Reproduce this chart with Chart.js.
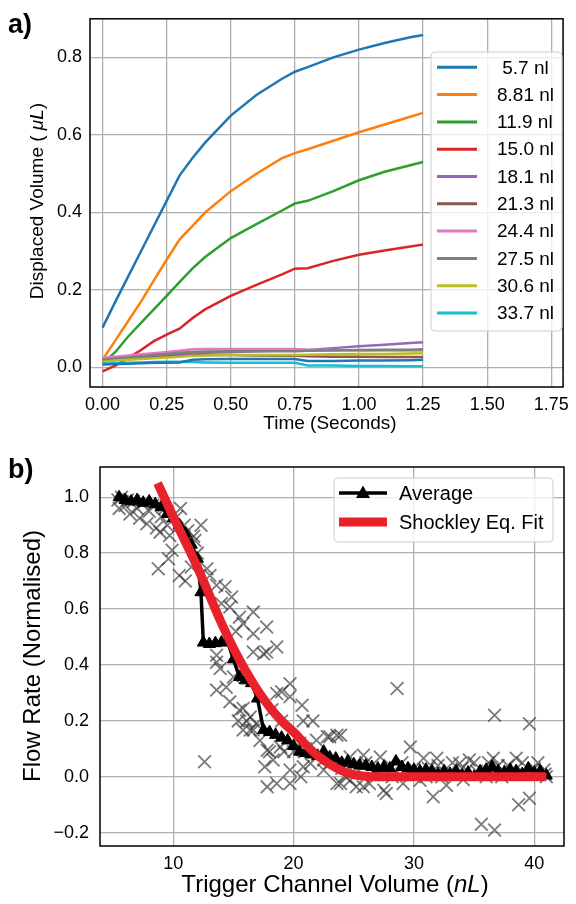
<!DOCTYPE html>
<html>
<head>
<meta charset="utf-8">
<script src="https://cdn.jsdelivr.net/npm/chart.js@4.4.1/dist/chart.umd.min.js"></script>
<style>
    html, body { margin: 0; padding: 0; background: #fff; }
    #page { position: relative; width: 576px; height: 904px; }
    canvas { position: absolute; left: 0; }
    #chartA { top: 0; }
    #chartB { top: 440px; }
</style>
</head>
<body>
<div id="page">
    <canvas id="chartA" width="576" height="440"></canvas>
    <canvas id="chartB" width="576" height="464"></canvas>
</div>
<script>
const FONT = '"Liberation Sans", Arial, Helvetica, sans-serif';

// panel a) displaced volume vs time, one line per trigger volume
const timeA = [0, 0.05, 0.1, 0.15, 0.2, 0.25, 0.3, 0.35, 0.4, 0.5, 0.6, 0.7, 0.75, 0.8, 0.9, 1.0, 1.1, 1.2, 1.25];
const vol5_7 = [0.103, 0.17, 0.235, 0.30, 0.365, 0.43, 0.495, 0.54, 0.58, 0.65, 0.703, 0.745, 0.763, 0.775, 0.80, 0.82, 0.837, 0.852, 0.858];
const vol8_81 = [0.02, 0.07, 0.12, 0.17, 0.225, 0.278, 0.33, 0.365, 0.40, 0.455, 0.50, 0.54, 0.553, 0.563, 0.585, 0.607, 0.627, 0.647, 0.657];
const vol11_9 = [0.01, 0.04, 0.08, 0.115, 0.15, 0.185, 0.22, 0.255, 0.285, 0.334, 0.37, 0.405, 0.423, 0.43, 0.455, 0.483, 0.505, 0.522, 0.53];
const vol15_0 = [-0.01, 0.005, 0.025, 0.045, 0.068, 0.085, 0.10, 0.127, 0.15, 0.185, 0.213, 0.24, 0.255, 0.256, 0.275, 0.291, 0.302, 0.312, 0.317];
const vol18_1 = [0.02, 0.022, 0.025, 0.028, 0.03, 0.032, 0.035, 0.037, 0.038, 0.04, 0.042, 0.044, 0.045, 0.045, 0.05, 0.055, 0.059, 0.063, 0.065];
const vol21_3 = [0.018, 0.02, 0.022, 0.024, 0.026, 0.028, 0.03, 0.031, 0.032, 0.032, 0.031, 0.03, 0.03, 0.029, 0.028, 0.028, 0.027, 0.027, 0.027];
const vol24_4 = [0.025, 0.028, 0.031, 0.034, 0.037, 0.04, 0.043, 0.047, 0.048, 0.048, 0.048, 0.048, 0.048, 0.046, 0.045, 0.044, 0.044, 0.044, 0.044];
const vol27_5 = [0.02, 0.023, 0.026, 0.029, 0.032, 0.035, 0.038, 0.04, 0.041, 0.042, 0.042, 0.042, 0.042, 0.043, 0.044, 0.045, 0.046, 0.046, 0.047];
const vol30_6 = [0.015, 0.018, 0.02, 0.022, 0.024, 0.026, 0.028, 0.03, 0.031, 0.032, 0.032, 0.032, 0.032, 0.033, 0.034, 0.035, 0.035, 0.036, 0.037];
const vol33_7 = [0.01, 0.011, 0.012, 0.013, 0.014, 0.015, 0.015, 0.014, 0.013, 0.012, 0.012, 0.012, 0.012, 0.005, 0.005, 0.004, 0.004, 0.003, 0.003];
const volUnlabelled = [0.008, 0.009, 0.01, 0.011, 0.012, 0.012, 0.013, 0.02, 0.021, 0.022, 0.022, 0.022, 0.022, 0.017, 0.017, 0.018, 0.018, 0.019, 0.02];

const labelsA = [' 5.7 nl', '8.81 nl', '11.9 nl', '15.0 nl', '18.1 nl', '21.3 nl', '24.4 nl', '27.5 nl', '30.6 nl', '33.7 nl'];
const seriesA = [vol5_7, vol8_81, vol11_9, vol15_0, vol18_1, vol21_3, vol24_4, vol27_5, vol30_6, vol33_7, volUnlabelled];
const xTicksA = [0, 0.25, 0.5, 0.75, 1.0, 1.25, 1.5, 1.75];
const yTicksA = [0, 0.2, 0.4, 0.6, 0.8];

// panel b) normalised flow rate vs trigger channel volume
const avgX = [5.5, 6.0, 6.5, 7.0, 7.5, 8.0, 8.5, 9.0, 9.5, 10.0, 10.5, 11.0, 11.5, 12.0, 12.3, 12.5, 13.0, 13.5, 14.0, 14.5, 15.0, 15.5, 16.0, 16.5, 17.0, 17.5, 18.0, 18.5, 19.0, 19.5, 20.0, 20.5, 21.0, 21.5, 22.0, 22.5, 23.0, 23.5, 24.0, 24.5, 25.0, 25.5, 26.0, 26.5, 27.0, 27.5, 28.0, 28.5, 29.0, 29.5, 30.0, 30.5, 31.0, 31.5, 32.0, 32.5, 33.0, 33.5, 34.0, 34.5, 35.0, 35.5, 36.0, 36.5, 37.0, 37.5, 38.0, 38.5, 39.0, 39.5, 40.0, 40.5, 41.0];
const avgY = [1.0, 0.99, 0.985, 0.99, 0.98, 0.985, 0.975, 0.965, 0.94, 0.925, 0.9, 0.87, 0.83, 0.78, 0.66, 0.48, 0.475, 0.478, 0.48, 0.485, 0.42, 0.357, 0.345, 0.335, 0.28, 0.167, 0.16, 0.15, 0.14, 0.13, 0.11, 0.09, 0.085, 0.08, 0.075, 0.09, 0.07, 0.065, 0.05, 0.055, 0.045, 0.04, 0.04, 0.035, 0.03, 0.035, 0.03, 0.055, 0.035, 0.03, 0.025, 0.02, 0.025, 0.02, 0.01, 0.02, 0.01, 0.02, 0.005, 0.015, 0.0, 0.02, 0.025, 0.035, 0.02, 0.015, 0.025, 0.02, 0.01, 0.03, 0.015, 0.02, 0.005];
const fitX = [8.7, 10, 12, 14, 15, 16, 17, 18, 19, 20, 21, 22, 23, 24, 25, 26, 27, 41];
const fitY = [1.05, 0.93, 0.75, 0.55, 0.46, 0.38, 0.31, 0.25, 0.2, 0.16, 0.115, 0.075, 0.045, 0.022, 0.008, 0.002, 0, 0];
const measured = [
    [5.4, 0.99], [5.5, 0.96], [5.7, 1.0], [6.0, 0.97], [6.2, 0.99], [6.4, 0.94], [6.7, 0.985], [7.0, 0.96],
    [7.2, 0.925], [7.5, 0.98], [7.8, 0.905], [8.0, 0.95], [8.3, 0.97], [8.6, 0.89], [8.9, 0.875], [9.0, 0.93],
    [9.3, 0.96], [9.5, 0.90], [9.7, 0.863], [9.9, 0.81], [8.75, 0.744], [9.6, 0.78], [10.3, 0.93], [10.6, 0.96],
    [10.5, 0.72], [11.0, 0.70], [10.9, 0.9], [11.2, 0.88], [11.7, 0.86], [11.8, 0.845], [12.0, 0.8], [12.3, 0.9],
    [11.5, 0.75], [12.8, 0.744], [13.05, 0.72], [13.6, 0.685], [14.3, 0.68], [14.85, 0.643], [14.0, 0.62],
    [14.7, 0.607], [15.5, 0.571], [16.65, 0.589], [15.8, 0.548], [16.65, 0.512], [17.76, 0.536], [15.2, 0.52],
    [16.65, 0.446], [17.76, 0.446], [18.6, 0.464], [17.5, 0.44], [13.6, 0.435], [13.6, 0.41], [13.9, 0.387],
    [15.0, 0.357], [13.6, 0.31], [14.4, 0.32], [14.7, 0.268], [15.5, 0.238], [16.1, 0.2], [16.65, 0.167],
    [15.8, 0.167], [15.4, 0.2], [16.4, 0.214], [16.9, 0.19], [15.8, 0.244], [16.4, 0.167], [12.6, 0.054],
    [17.8, 0.095], [18.9, 0.107], [18.3, 0.06], [17.8, -0.036], [18.6, -0.024], [19.7, -0.024], [17.6, 0.036],
    [17.2, 0.13], [18.0, 0.09], [19.2, 0.09], [18.6, 0.298], [19.7, 0.333], [19.0, 0.304], [19.7, 0.286],
    [19.0, 0.2], [18.2, 0.24], [20.7, 0.256], [20.8, 0.2], [21.6, 0.2], [19.7, 0.024], [20.6, 0.0], [20.8, 0.036],
    [21.9, 0.131], [22.8, 0.143], [23.6, 0.149], [23.0, 0.143], [23.9, 0.149], [22.5, 0.024], [23.6, -0.024],
    [24.7, -0.012], [25.8, -0.036], [27.5, -0.048], [21.4, 0.048], [22.5, 0.06], [24.7, 0.071], [25.8, 0.077],
    [27.2, 0.071], [27.7, -0.06], [23.9, -0.024], [25.2, -0.036], [26.3, -0.024], [20.0, 0.09], [20.5, 0.12],
    [21.0, 0.1], [22.0, 0.08], [23.0, 0.05], [24.0, 0.03], [24.3, 0.0], [25.0, 0.04], [26.0, 0.05], [26.8, 0.02],
    [27.0, 0.01], [28.0, 0.04], [28.2, 0.0], [28.6, 0.316], [29.1, -0.024], [29.5, 0.02], [29.7, 0.107],
    [29.0, 0.05], [30.0, 0.03], [30.5, -0.012], [30.8, 0.066], [31.0, 0.0], [31.2, 0.03], [31.6, -0.071],
    [31.9, 0.066], [32.0, 0.04], [32.3, 0.0], [32.7, -0.03], [33.0, 0.02], [33.2, 0.05], [33.8, 0.048],
    [34.0, 0.03], [34.1, -0.01], [34.6, 0.06], [35.0, 0.05], [35.2, 0.02], [35.6, -0.17], [36.0, 0.0],
    [36.2, 0.05], [36.6, 0.066], [36.7, -0.19], [36.7, 0.22], [37.0, 0.04], [37.3, 0.0], [37.8, 0.04],
    [38.0, 0.02], [38.5, 0.066], [38.7, -0.10], [39.0, 0.05], [39.2, 0.01], [39.6, -0.077], [39.6, 0.19],
    [40.0, 0.03], [40.3, 0.05], [40.8, 0.024], [40.9, 0.01], [41.0, 0.0]
];
const xTicksB = [10, 20, 30, 40];
const yTicksB = [-0.2, 0, 0.2, 0.4, 0.6, 0.8, 1.0];

const coloursA = ['#1f77b4', '#ff7f0e', '#2ca02c', '#d62728', '#9467bd', '#8c564b', '#e377c2', '#7f7f7f', '#bcbd22', '#17becf', '#1f77b4'];
const fitColour = '#e8212a';

Chart.defaults.font.family = FONT;
Chart.defaults.color = '#000';

function formatTick(value, digits) {
    return value.toFixed(digits).replace('-', '\u2212');
}

function makeAxis(min, max, ticks, digits, horizontal, size, padding) {
    return {
        type: 'linear',
        min: min,
        max: max,
        afterBuildTicks: (scale) => {
            scale.ticks = ticks.map((value) => ({ value }));
        },
        afterFit: (scale) => {
            if (horizontal) {
                scale.height = size;
            } else {
                scale.width = size;
            }
        },
        ticks: {
            callback: (value) => formatTick(value, digits),
            color: '#000',
            font: { size: 18 },
            padding: padding,
            autoSkip: false,
            maxRotation: 0
        },
        grid: { color: '#b0b0b0', lineWidth: 1.3, drawTicks: false },
        border: { display: false }
    };
}

function drawRichText(ctx, parts, x, y, size, vertical) {
    ctx.save();
    ctx.translate(x, y);
    if (vertical) {
        ctx.rotate(-Math.PI / 2);
    }
    const fonts = parts.map((part) => `${part.italic ? 'italic ' : ''}${size}px ${FONT}`);
    const widths = parts.map((part, i) => {
        ctx.font = fonts[i];
        return ctx.measureText(part.text).width;
    });
    let cursor = -widths.reduce((a, b) => a + b, 0) / 2;
    ctx.fillStyle = '#000';
    ctx.textAlign = 'left';
    ctx.textBaseline = 'middle';
    parts.forEach((part, i) => {
        ctx.font = fonts[i];
        ctx.fillText(part.text, cursor, 0);
        cursor += widths[i];
    });
    ctx.restore();
}

function drawLegendFrame(ctx, left, top, right, bottom) {
    ctx.save();
    ctx.beginPath();
    ctx.roundRect(left, top, right - left, bottom - top, 4);
    ctx.fillStyle = 'rgba(255,255,255,0.8)';
    ctx.fill();
    ctx.strokeStyle = '#cccccc';
    ctx.lineWidth = 1;
    ctx.stroke();
    ctx.restore();
}

function drawSwatch(ctx, x1, x2, y, colour, width) {
    ctx.save();
    ctx.beginPath();
    ctx.moveTo(x1, y);
    ctx.lineTo(x2, y);
    ctx.strokeStyle = colour;
    ctx.lineWidth = width;
    ctx.stroke();
    ctx.restore();
}

function drawPanelLabel(ctx, text, x, y) {
    ctx.save();
    ctx.font = `bold 27px ${FONT}`;
    ctx.fillStyle = '#000';
    ctx.textBaseline = 'alphabetic';
    ctx.fillText(text, x, y);
    ctx.restore();
}

function framePlugin(drawExtras) {
    return {
        id: 'frame',
        afterDatasetsDraw(chart) {
            const { ctx, chartArea } = chart;
            ctx.save();
            ctx.strokeStyle = '#000';
            ctx.lineWidth = 1.5;
            ctx.strokeRect(chartArea.left, chartArea.top, chartArea.right - chartArea.left, chartArea.bottom - chartArea.top);
            ctx.restore();
        },
        afterDraw(chart) {
            drawExtras(chart.ctx, chart.chartArea);
        }
    };
}

function drawExtrasA(ctx) {
    drawLegendFrame(ctx, 431, 52, 562, 331);
    labelsA.forEach((label, i) => {
        const y = 67.3 + i * 27.3;
        drawSwatch(ctx, 437, 477, y, coloursA[i], 3);
        ctx.save();
        ctx.font = `19px ${FONT}`;
        ctx.fillStyle = '#000';
        ctx.textBaseline = 'middle';
        ctx.fillText(label, 497, y + 1);
        ctx.restore();
    });
    drawRichText(ctx, [{ text: 'Time (Seconds)' }], 330, 424, 19, false);
    drawRichText(ctx, [{ text: 'Displaced Volume ( ' }, { text: '\u03bcL', italic: true }, { text: ')' }], 38, 201, 19, true);
    drawPanelLabel(ctx, 'a)', 8, 33);
}

function drawExtrasB(ctx) {
    drawLegendFrame(ctx, 334, 38, 553, 102);
    drawSwatch(ctx, 339, 387, 53, '#000', 3.5);
    ctx.save();
    ctx.beginPath();
    ctx.moveTo(363, 45.5);
    ctx.lineTo(370, 58);
    ctx.lineTo(356, 58);
    ctx.closePath();
    ctx.fillStyle = '#000';
    ctx.fill();
    ctx.restore();
    drawSwatch(ctx, 339, 387, 82, fitColour, 9);
    ctx.save();
    ctx.font = `20px ${FONT}`;
    ctx.fillStyle = '#000';
    ctx.textBaseline = 'middle';
    ctx.fillText('Average', 399, 54);
    ctx.fillText('Shockley Eq. Fit', 399, 83);
    ctx.restore();
    drawRichText(ctx, [{ text: 'Trigger Channel Volume (' }, { text: 'nL', italic: true }, { text: ')' }], 335, 445, 24, false);
    drawRichText(ctx, [{ text: 'Flow Rate (Normalised)' }], 33, 216, 24, true);
    drawPanelLabel(ctx, 'b)', 8, 38);
}

const datasetsA = seriesA.map((values, i) => ({
    label: labelsA[i] || '',
    data: timeA.map((t, j) => ({ x: t, y: values[j] })),
    showLine: true,
    borderColor: coloursA[i],
    borderWidth: 2.5,
    pointRadius: 0,
    tension: 0,
    order: seriesA.length - i
}));

new Chart(document.getElementById('chartA'), {
    type: 'scatter',
    data: { datasets: datasetsA },
    options: {
        responsive: false,
        animation: false,
        layout: { padding: { left: 0, top: 15, right: 8, bottom: 0 } },
        plugins: { legend: { display: false }, tooltip: { enabled: false } },
        scales: {
            x: makeAxis(-0.049, 1.796, xTicksA, 2, true, 53, 7),
            y: makeAxis(-0.0503, 0.8996, yTicksA, 1, false, 90, 8)
        }
    },
    plugins: [framePlugin(drawExtrasA)]
});

new Chart(document.getElementById('chartB'), {
    type: 'scatter',
    data: {
        datasets: [
            {
                label: 'Shockley Eq. Fit',
                data: fitX.map((x, i) => ({ x, y: fitY[i] })),
                showLine: true,
                borderColor: fitColour,
                borderWidth: 9,
                pointRadius: 0,
                tension: 0.3,
                order: 1
            },
            {
                label: 'Average',
                data: avgX.map((x, i) => ({ x, y: avgY[i] })),
                showLine: true,
                borderColor: '#000',
                borderWidth: 3.5,
                pointStyle: 'triangle',
                pointRadius: 7,
                pointBackgroundColor: '#000',
                pointBorderColor: '#000',
                pointBorderWidth: 1,
                tension: 0,
                order: 2
            },
            {
                label: 'Measured',
                data: measured.map(([x, y]) => ({ x, y })),
                pointStyle: 'crossRot',
                pointRadius: 9,
                borderColor: 'rgba(50,50,50,0.65)',
                pointBorderWidth: 1.8,
                order: 3
            }
        ]
    },
    options: {
        responsive: false,
        animation: false,
        layout: { padding: { left: 0, top: 27, right: 12, bottom: 0 } },
        plugins: { legend: { display: false }, tooltip: { enabled: false } },
        scales: {
            x: makeAxis(3.91, 42.47, xTicksB, 0, true, 58, 7),
            y: makeAxis(-0.2475, 1.108, yTicksB, 1, false, 100, 11)
        }
    },
    plugins: [framePlugin(drawExtrasB)]
});
</script>
</body>
</html>
